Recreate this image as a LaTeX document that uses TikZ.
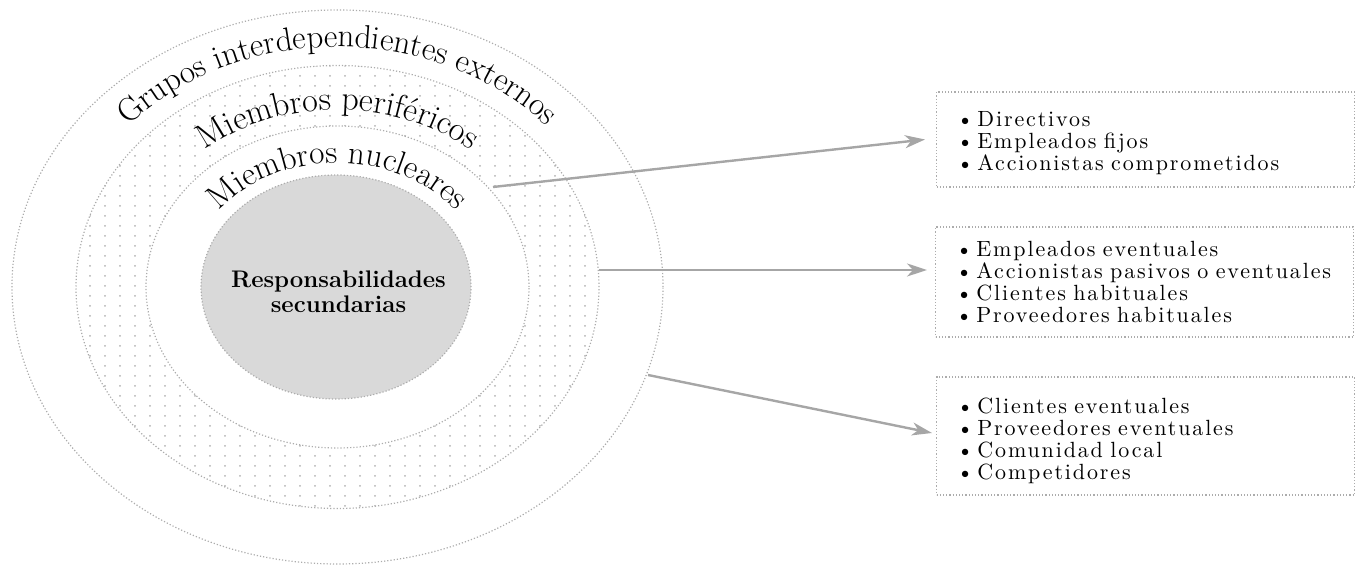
\documentclass[tikz,border=0pt]{standalone}
\usepackage{fontspec}
\newfontfamily\boxfont[LetterSpace=8.5]{lmroman10-regular.otf}
\usetikzlibrary{decorations.text,patterns.meta,arrows.meta}
\tikzdeclarepattern{name=sparsedots,type=uncolored,bounding box={(-1pt,-1pt) and (1pt,1pt)},tile size={(7.5pt,5pt)},code={\fill (0,0) circle (0.5pt);}}
\newcommand{\itm}[1]{\mbox{\textbullet\,#1}}
\tikzset{
  ring/.style={draw=gray!65, line width=0.6pt, densely dotted},
  listbox/.style={draw=gray!65, line width=0.6pt, densely dotted, anchor=west, text width=189pt, inner xsep=10pt, inner ysep=0pt, align=left,
    font=\boxfont\fontsize{11}{11}\selectfont},
  conn/.style={draw=gray!70, line width=1.2pt, -{Stealth[length=10pt,width=6.5pt,inset=3pt]}},
  curvelabel/.style={decorate, decoration={text along path, text align=center}}
}
\begin{document}
\begin{tikzpicture}[x=0.5pt,y=0.5pt]
\useasboundingbox (0,0) rectangle (1360,566);
\coordinate (C) at (337.5,279);
\coordinate (K) at (336,279);
% dotted band (miembros perifericos)
\fill[pattern=sparsedots, pattern color=gray!60, even odd rule] (C) ellipse [x radius=261.5, y radius=221.5] (C) ellipse [x radius=191.5, y radius=161];
% core
\fill[gray!30] (K) ellipse [x radius=135, y radius=112];
\draw[ring] (K) ellipse [x radius=135, y radius=112];
\draw[ring] (C) ellipse [x radius=191.5, y radius=161];
\draw[ring] (C) ellipse [x radius=261.5, y radius=221.5];
\draw[ring] (C) ellipse [x radius=325.5, y radius=277];
% curved labels
\path[curvelabel, decoration={text={|\fontsize{16.5}{16.5}\selectfont|Grupos interdependientes externos}}]
  (C) ++(178:282 and 240) arc [start angle=178, end angle=2, x radius=282, y radius=240];
\path[curvelabel, decoration={text={|\fontsize{17}{17}\selectfont|Miembros periféricos}}]
  (C) ++(178:209 and 177) arc [start angle=178, end angle=2, x radius=209, y radius=177];
\path[curvelabel, decoration={text={|\fontsize{16.6}{16.6}\selectfont|Miembros nucleares}}]
  (C) ++(178:150 and 124) arc [start angle=178, end angle=2, x radius=150, y radius=124];
% core text
\node[font=\bfseries\fontsize{12}{12.5}\selectfont, align=center, inner sep=0pt, anchor=north] (core) at (338.5,295.5) {Responsabilidades\\secundarias};
% boxes
\node[listbox, minimum height=47.5pt] (b1) at (936,426.5) {\rule{0pt}{11.6pt}\itm{Directivos}\\\itm{Empleados fijos}\\\itm{Accionistas comprometidos}};
\node[listbox, minimum height=55pt] (b2) at (935,284) {\itm{Empleados eventuales}\\\itm{Accionistas pasivos o eventuales}\\\itm{Clientes habituales}\\\itm{Proveedores habituales}};
\node[listbox, minimum height=59pt] (b3) at (936,130) {\rule{0pt}{12.6pt}\itm{Clientes eventuales}\\\itm{Proveedores eventuales}\\\itm{Comunidad local}\\\itm{Competidores}};
% connectors
\coordinate (s1) at (493,379);
\coordinate (s2) at (599,296);
\coordinate (s3) at (648,191);
\draw[conn] (s1) -- ([xshift=-5.5pt]b1.west);
\draw[conn] (s2) -- ([xshift=-4pt,yshift=6pt]b2.west);
\draw[conn] (s3) -- ([xshift=-2pt,yshift=1.5pt]b3.west);
\end{tikzpicture}
\end{document}
